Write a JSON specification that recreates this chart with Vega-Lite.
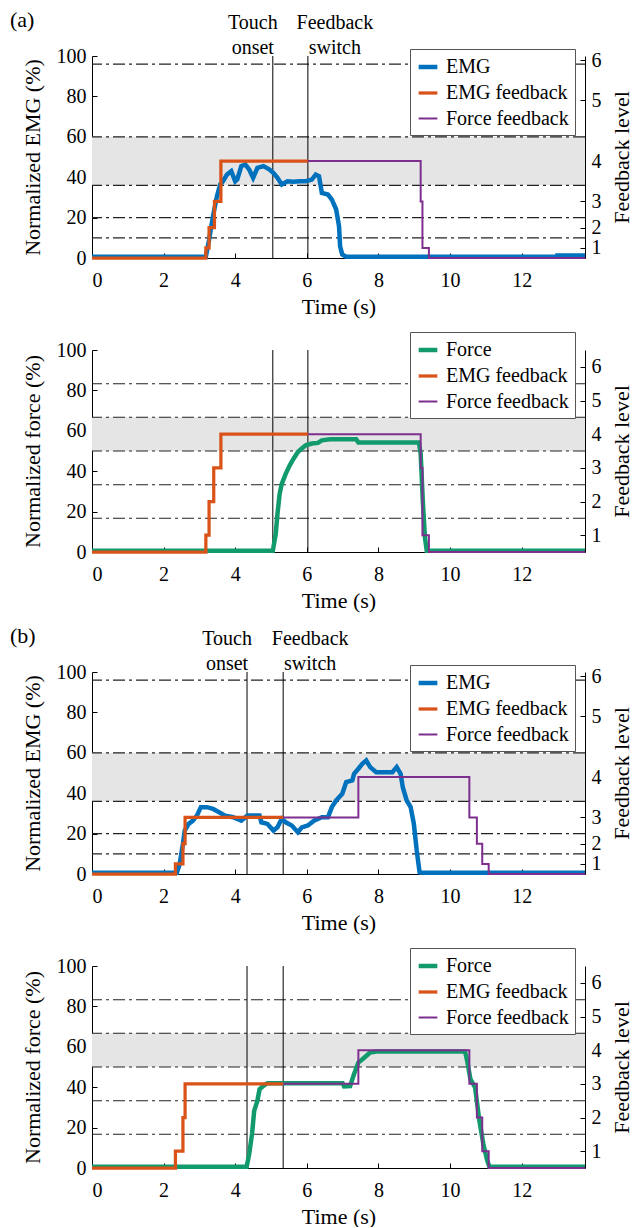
{
  "$schema": "https://vega.github.io/schema/vega-lite/v6.json",
  "padding": {"left": 10, "top": 9, "right": 0, "bottom": 0},
  "spacing": 14,
  "config": {
    "font": "Liberation Serif",
    "view": {"stroke": null},
    "axis": {"labelFont": "Liberation Serif", "titleFont": "Liberation Serif", "labelFontSize": 20, "titleFontSize": 22, "titleFontWeight": "normal", "labelColor": "#000", "titleColor": "#000", "domainColor": "#000", "tickColor": "#000", "grid": false, "tickSize": -5, "labelPadding": 11, "domainWidth": 1, "tickWidth": 1},
    "axisX": {"labelPadding": 17, "titlePadding": 6},
    "legend": {"orient": "none", "labelFont": "Liberation Serif", "labelFontSize": 20, "labelColor": "#000", "strokeColor": "#555", "fillColor": "#fff", "padding": 6, "symbolType": "stroke", "symbolSize": 350, "rowPadding": 5, "labelOffset": 6},
    "title": {"font": "Liberation Serif", "fontSize": 22, "fontWeight": "normal", "anchor": "start", "frame": "bounds", "color": "#000"},
    "text": {"font": "Liberation Serif", "fontSize": 20}
  },
  "resolve": {"scale": {"color": "independent", "strokeWidth": "independent"}},
  "vconcat": [
    {
      "spacing": 14,
      "resolve": {"scale": {"color": "independent", "strokeWidth": "independent"}},
      "vconcat": [
        {
          "width": 493, "height": 202,
          "title": {"text": "(a)", "dx": -11, "dy": 23},
          "layer": [
            {
              "layer": [
                {"data": {"values": [{"lo": 36, "hi": 60}]}, "mark": {"type": "rect", "color": "#e5e5e5"},
                 "encoding": {"y": {"field": "lo", "type": "quantitative", "scale": {"domain": [0, 100], "nice": false}, "axis": {"title": "Normalized EMG (%)", "values": [0, 20, 40, 60, 80, 100], "titlePadding": 12}}, "y2": {"field": "hi"}}},
                {"data": {"values": [{"v": 10}, {"v": 20}, {"v": 36}, {"v": 60}, {"v": 96}]}, "mark": {"type": "rule", "color": "#222", "strokeWidth": 1.2, "strokeDash": [12, 4, 3, 4]},
                 "encoding": {"y": {"field": "v", "type": "quantitative"}}},
                {"data": {"values": [{"t": 5.05, "label": "Touch\nonset", "kind": "touch"}, {"t": 6.03, "label": "Feedback\nswitch", "kind": "switch"}]},
                 "layer": [
                   {"mark": {"type": "rule", "color": "#000", "strokeWidth": 1}, "encoding": {"x": {"field": "t", "type": "quantitative", "scale": {"domain": [0, 13.77], "nice": false}, "axis": {"title": "Time (s)", "values": [0, 2, 4, 6, 8, 10, 12]}}}},
                   {"transform": [{"filter": "datum.kind == 'touch'"}], "mark": {"type": "text", "lineBreak": "\n", "baseline": "bottom", "dy": -23, "dx": -20, "lineHeight": 25}, "encoding": {"x": {"field": "t", "type": "quantitative"}, "y": {"datum": 100}, "text": {"field": "label"}}},
                   {"transform": [{"filter": "datum.kind == 'switch'"}], "mark": {"type": "text", "lineBreak": "\n", "baseline": "bottom", "dy": -23, "dx": 27, "lineHeight": 25}, "encoding": {"x": {"field": "t", "type": "quantitative"}, "y": {"datum": 100}, "text": {"field": "label"}}}
                 ]},
                {"data": {"values": [
                  {"t": 0, "v": 0.6, "s": "EMG"}, {"t": 3.18, "v": 0.6, "s": "EMG"}, {"t": 3.27, "v": 9, "s": "EMG"}, {"t": 3.38, "v": 20.7, "s": "EMG"}, {"t": 3.49, "v": 30.6, "s": "EMG"}, {"t": 3.58, "v": 36.4, "s": "EMG"}, {"t": 3.66, "v": 38, "s": "EMG"}, {"t": 3.77, "v": 41.3, "s": "EMG"}, {"t": 3.89, "v": 43, "s": "EMG"}, {"t": 4.0, "v": 38, "s": "EMG"}, {"t": 4.06, "v": 39, "s": "EMG"}, {"t": 4.17, "v": 45.5, "s": "EMG"}, {"t": 4.28, "v": 46.3, "s": "EMG"}, {"t": 4.39, "v": 43.8, "s": "EMG"}, {"t": 4.5, "v": 39.7, "s": "EMG"}, {"t": 4.62, "v": 44.6, "s": "EMG"}, {"t": 4.79, "v": 45.5, "s": "EMG"}, {"t": 4.96, "v": 43.8, "s": "EMG"}, {"t": 5.07, "v": 42.1, "s": "EMG"}, {"t": 5.18, "v": 39.7, "s": "EMG"}, {"t": 5.3, "v": 36.4, "s": "EMG"}, {"t": 5.46, "v": 38, "s": "EMG"}, {"t": 5.63, "v": 37.8, "s": "EMG"}, {"t": 5.8, "v": 38, "s": "EMG"}, {"t": 5.97, "v": 38, "s": "EMG"}, {"t": 6.14, "v": 38.8, "s": "EMG"}, {"t": 6.25, "v": 41.3, "s": "EMG"}, {"t": 6.34, "v": 40.5, "s": "EMG"}, {"t": 6.42, "v": 32.2, "s": "EMG"}, {"t": 6.59, "v": 31.4, "s": "EMG"}, {"t": 6.7, "v": 28.9, "s": "EMG"}, {"t": 6.82, "v": 24, "s": "EMG"}, {"t": 6.9, "v": 15.7, "s": "EMG"}, {"t": 6.93, "v": 5.8, "s": "EMG"}, {"t": 6.99, "v": 1.7, "s": "EMG"}, {"t": 7.1, "v": 0.6, "s": "EMG"}, {"t": 13.0, "v": 0.6, "s": "EMG"}, {"t": 13.0, "v": 1.2, "s": "EMG"}, {"t": 13.77, "v": 1.2, "s": "EMG"}
                ]}, "mark": {"type": "line"},
                 "encoding": {"x": {"field": "t", "type": "quantitative"}, "y": {"field": "v", "type": "quantitative"},
                   "color": {"field": "s", "type": "nominal", "scale": {"domain": ["EMG", "EMG feedback", "Force feedback"], "range": ["#0072BD", "#D95319", "#7E2F8E"]}, "legend": {"title": null, "legendX": 318, "legendY": -7}},
                   "strokeWidth": {"field": "s", "type": "nominal", "scale": {"domain": ["EMG", "EMG feedback", "Force feedback"], "range": [4.5, 2, 2]}, "legend": {"title": null, "legendX": 318, "legendY": -7}}}}
              ]
            },
            {
              "data": {"values": [
                {"t": 0, "v": 0, "s": "EMG feedback"}, {"t": 3.18, "v": 5, "s": "EMG feedback"}, {"t": 3.27, "v": 15, "s": "EMG feedback"}, {"t": 3.42, "v": 28, "s": "EMG feedback"}, {"t": 3.6, "v": 48, "s": "EMG feedback"}, {"t": 6.03, "v": 48, "s": "EMG feedback"},
                {"t": 6.03, "v": 48, "s": "Force feedback"}, {"t": 9.18, "v": 28, "s": "Force feedback"}, {"t": 9.23, "v": 5, "s": "Force feedback"}, {"t": 9.41, "v": 0, "s": "Force feedback"}, {"t": 13.77, "v": 0, "s": "Force feedback"}
              ]},
              "mark": {"type": "line", "interpolate": "step-after"},
              "encoding": {"x": {"field": "t", "type": "quantitative"},
                "y": {"field": "v", "type": "quantitative", "scale": {"domain": [0, 100], "nice": false}, "axis": {"orient": "right", "title": "Feedback level", "titleAngle": -90, "titleBaseline": "top", "values": [5, 15, 28, 48, 78, 98], "labelExpr": "indexof([5, 15, 28, 48, 78, 98], datum.value) + 1", "titlePadding": 10}},
                "color": {"field": "s", "type": "nominal", "legend": {"title": null, "legendX": 318, "legendY": -7}},
                "strokeWidth": {"field": "s", "type": "nominal", "legend": {"title": null, "legendX": 318, "legendY": -7}}}
            }
          ],
          "resolve": {"scale": {"y": "independent"}}
        },
        {
          "width": 493, "height": 202,
          "layer": [
            {
              "layer": [
                {"data": {"values": [{"lo": 50, "hi": 66.7}]}, "mark": {"type": "rect", "color": "#e5e5e5"},
                 "encoding": {"y": {"field": "lo", "type": "quantitative", "scale": {"domain": [0, 100], "nice": false}, "axis": {"title": "Normalized force (%)", "values": [0, 20, 40, 60, 80, 100], "titlePadding": 12}}, "y2": {"field": "hi"}}},
                {"data": {"values": [{"v": 16.7}, {"v": 33.3}, {"v": 50}, {"v": 66.7}, {"v": 83.3}]}, "mark": {"type": "rule", "color": "#222", "strokeWidth": 1.2, "strokeDash": [12, 4, 3, 4]},
                 "encoding": {"y": {"field": "v", "type": "quantitative"}}},
                {"data": {"values": [{"t": 5.05}, {"t": 6.03}]},
                 "mark": {"type": "rule", "color": "#000", "strokeWidth": 1}, "encoding": {"x": {"field": "t", "type": "quantitative", "scale": {"domain": [0, 13.77], "nice": false}, "axis": {"title": "Time (s)", "values": [0, 2, 4, 6, 8, 10, 12]}}}},
                {"data": {"values": [
                  {"t": 0, "v": 0.6, "s": "Force"}, {"t": 5.05, "v": 0.6, "s": "Force"}, {"t": 5.13, "v": 8.7, "s": "Force"}, {"t": 5.18, "v": 18.7, "s": "Force"}, {"t": 5.24, "v": 28.7, "s": "Force"}, {"t": 5.3, "v": 33.7, "s": "Force"}, {"t": 5.41, "v": 38.7, "s": "Force"}, {"t": 5.52, "v": 42.8, "s": "Force"}, {"t": 5.63, "v": 46.2, "s": "Force"}, {"t": 5.75, "v": 49.5, "s": "Force"}, {"t": 5.86, "v": 51.2, "s": "Force"}, {"t": 5.97, "v": 52.8, "s": "Force"}, {"t": 6.14, "v": 53.7, "s": "Force"}, {"t": 6.31, "v": 54, "s": "Force"}, {"t": 6.42, "v": 55.3, "s": "Force"}, {"t": 6.65, "v": 55.8, "s": "Force"}, {"t": 7.38, "v": 55.8, "s": "Force"}, {"t": 7.44, "v": 54.2, "s": "Force"}, {"t": 9.13, "v": 54.2, "s": "Force"}, {"t": 9.18, "v": 48.7, "s": "Force"}, {"t": 9.24, "v": 25.3, "s": "Force"}, {"t": 9.3, "v": 7, "s": "Force"}, {"t": 9.35, "v": 0.6, "s": "Force"}, {"t": 13.77, "v": 0.6, "s": "Force"}
                ]}, "mark": {"type": "line"},
                 "encoding": {"x": {"field": "t", "type": "quantitative"}, "y": {"field": "v", "type": "quantitative"},
                   "color": {"field": "s", "type": "nominal", "scale": {"domain": ["Force", "EMG feedback", "Force feedback"], "range": ["#119A6E", "#D95319", "#7E2F8E"]}, "legend": {"title": null, "legendX": 318, "legendY": -18}},
                   "strokeWidth": {"field": "s", "type": "nominal", "scale": {"domain": ["Force", "EMG feedback", "Force feedback"], "range": [4.5, 2, 2]}, "legend": {"title": null, "legendX": 318, "legendY": -18}}}}
              ]
            },
            {
              "data": {"values": [
                {"t": 0, "v": 0, "s": "EMG feedback"}, {"t": 3.18, "v": 8.33, "s": "EMG feedback"}, {"t": 3.27, "v": 25, "s": "EMG feedback"}, {"t": 3.4, "v": 41.67, "s": "EMG feedback"}, {"t": 3.6, "v": 58.33, "s": "EMG feedback"}, {"t": 6.03, "v": 58.33, "s": "EMG feedback"},
                {"t": 6.03, "v": 58.33, "s": "Force feedback"}, {"t": 9.18, "v": 41.67, "s": "Force feedback"}, {"t": 9.23, "v": 8.33, "s": "Force feedback"}, {"t": 9.41, "v": 0, "s": "Force feedback"}, {"t": 13.77, "v": 0, "s": "Force feedback"}
              ]},
              "mark": {"type": "line", "interpolate": "step-after"},
              "encoding": {"x": {"field": "t", "type": "quantitative"},
                "y": {"field": "v", "type": "quantitative", "scale": {"domain": [0, 100], "nice": false}, "axis": {"orient": "right", "title": "Feedback level", "titleAngle": -90, "titleBaseline": "top", "values": [8.33, 25, 41.67, 58.33, 75, 91.67], "labelExpr": "indexof([8.33, 25, 41.67, 58.33, 75, 91.67], datum.value) + 1", "titlePadding": 10}},
                "color": {"field": "s", "type": "nominal", "legend": {"title": null, "legendX": 318, "legendY": -18}},
                "strokeWidth": {"field": "s", "type": "nominal", "legend": {"title": null, "legendX": 318, "legendY": -18}}}
            }
          ],
          "resolve": {"scale": {"y": "independent"}}
        }
      ]
    },
    {
      "spacing": 14,
      "resolve": {"scale": {"color": "independent", "strokeWidth": "independent"}},
      "vconcat": [
        {
          "width": 493, "height": 202,
          "title": {"text": "(b)", "dx": -11, "dy": 23},
          "layer": [
            {
              "layer": [
                {"data": {"values": [{"lo": 36, "hi": 60}]}, "mark": {"type": "rect", "color": "#e5e5e5"},
                 "encoding": {"y": {"field": "lo", "type": "quantitative", "scale": {"domain": [0, 100], "nice": false}, "axis": {"title": "Normalized EMG (%)", "values": [0, 20, 40, 60, 80, 100], "titlePadding": 12}}, "y2": {"field": "hi"}}},
                {"data": {"values": [{"v": 10}, {"v": 20}, {"v": 36}, {"v": 60}, {"v": 96}]}, "mark": {"type": "rule", "color": "#222", "strokeWidth": 1.2, "strokeDash": [12, 4, 3, 4]},
                 "encoding": {"y": {"field": "v", "type": "quantitative"}}},
                {"data": {"values": [{"t": 4.33, "label": "Touch\nonset", "kind": "touch"}, {"t": 5.34, "label": "Feedback\nswitch", "kind": "switch"}]},
                 "layer": [
                   {"mark": {"type": "rule", "color": "#000", "strokeWidth": 1}, "encoding": {"x": {"field": "t", "type": "quantitative", "scale": {"domain": [0, 13.77], "nice": false}, "axis": {"title": "Time (s)", "values": [0, 2, 4, 6, 8, 10, 12]}}}},
                   {"transform": [{"filter": "datum.kind == 'touch'"}], "mark": {"type": "text", "lineBreak": "\n", "baseline": "bottom", "dy": -23, "dx": -20, "lineHeight": 25}, "encoding": {"x": {"field": "t", "type": "quantitative"}, "y": {"datum": 100}, "text": {"field": "label"}}},
                   {"transform": [{"filter": "datum.kind == 'switch'"}], "mark": {"type": "text", "lineBreak": "\n", "baseline": "bottom", "dy": -23, "dx": 27, "lineHeight": 25}, "encoding": {"x": {"field": "t", "type": "quantitative"}, "y": {"datum": 100}, "text": {"field": "label"}}}
                 ]},
                {"data": {"values": [
                  {"t": 0, "v": 0.6, "s": "EMG"}, {"t": 2.37, "v": 0.6, "s": "EMG"}, {"t": 2.45, "v": 5, "s": "EMG"}, {"t": 2.54, "v": 14.9, "s": "EMG"}, {"t": 2.59, "v": 21.5, "s": "EMG"}, {"t": 2.7, "v": 24.8, "s": "EMG"}, {"t": 2.82, "v": 26.4, "s": "EMG"}, {"t": 2.93, "v": 28.9, "s": "EMG"}, {"t": 3.04, "v": 33.1, "s": "EMG"}, {"t": 3.21, "v": 33.1, "s": "EMG"}, {"t": 3.38, "v": 32.2, "s": "EMG"}, {"t": 3.55, "v": 30.6, "s": "EMG"}, {"t": 3.72, "v": 28.9, "s": "EMG"}, {"t": 3.94, "v": 28.1, "s": "EMG"}, {"t": 4.17, "v": 26.4, "s": "EMG"}, {"t": 4.34, "v": 28.9, "s": "EMG"}, {"t": 4.5, "v": 28.9, "s": "EMG"}, {"t": 4.68, "v": 28.9, "s": "EMG"}, {"t": 4.73, "v": 25.6, "s": "EMG"}, {"t": 4.9, "v": 24.8, "s": "EMG"}, {"t": 5.07, "v": 21.5, "s": "EMG"}, {"t": 5.18, "v": 23.1, "s": "EMG"}, {"t": 5.3, "v": 27.3, "s": "EMG"}, {"t": 5.41, "v": 25.6, "s": "EMG"}, {"t": 5.58, "v": 24, "s": "EMG"}, {"t": 5.75, "v": 20.7, "s": "EMG"}, {"t": 5.86, "v": 23.1, "s": "EMG"}, {"t": 6.03, "v": 24, "s": "EMG"}, {"t": 6.2, "v": 26.4, "s": "EMG"}, {"t": 6.42, "v": 28.1, "s": "EMG"}, {"t": 6.59, "v": 28.1, "s": "EMG"}, {"t": 6.7, "v": 33.1, "s": "EMG"}, {"t": 6.82, "v": 36.4, "s": "EMG"}, {"t": 6.99, "v": 39.7, "s": "EMG"}, {"t": 7.1, "v": 45.5, "s": "EMG"}, {"t": 7.27, "v": 46.3, "s": "EMG"}, {"t": 7.32, "v": 49.6, "s": "EMG"}, {"t": 7.44, "v": 52.1, "s": "EMG"}, {"t": 7.55, "v": 54.5, "s": "EMG"}, {"t": 7.66, "v": 56.2, "s": "EMG"}, {"t": 7.77, "v": 52.9, "s": "EMG"}, {"t": 7.94, "v": 50.4, "s": "EMG"}, {"t": 8.39, "v": 50.4, "s": "EMG"}, {"t": 8.51, "v": 52.9, "s": "EMG"}, {"t": 8.62, "v": 49.6, "s": "EMG"}, {"t": 8.68, "v": 43, "s": "EMG"}, {"t": 8.79, "v": 36.4, "s": "EMG"}, {"t": 8.9, "v": 33.1, "s": "EMG"}, {"t": 8.99, "v": 24.8, "s": "EMG"}, {"t": 9.07, "v": 11.6, "s": "EMG"}, {"t": 9.15, "v": 0.8, "s": "EMG"}, {"t": 9.2, "v": 0.6, "s": "EMG"}, {"t": 13.77, "v": 0.6, "s": "EMG"}
                ]}, "mark": {"type": "line"},
                 "encoding": {"x": {"field": "t", "type": "quantitative"}, "y": {"field": "v", "type": "quantitative"},
                   "color": {"field": "s", "type": "nominal", "scale": {"domain": ["EMG", "EMG feedback", "Force feedback"], "range": ["#0072BD", "#D95319", "#7E2F8E"]}, "legend": {"title": null, "legendX": 318, "legendY": -7}},
                   "strokeWidth": {"field": "s", "type": "nominal", "scale": {"domain": ["EMG", "EMG feedback", "Force feedback"], "range": [4.5, 2, 2]}, "legend": {"title": null, "legendX": 318, "legendY": -7}}}}
              ]
            },
            {
              "data": {"values": [
                {"t": 0, "v": 0, "s": "EMG feedback"}, {"t": 2.33, "v": 5, "s": "EMG feedback"}, {"t": 2.54, "v": 15, "s": "EMG feedback"}, {"t": 2.6, "v": 28, "s": "EMG feedback"}, {"t": 5.34, "v": 28, "s": "EMG feedback"},
                {"t": 5.34, "v": 28, "s": "Force feedback"}, {"t": 7.44, "v": 48, "s": "Force feedback"}, {"t": 10.54, "v": 28, "s": "Force feedback"}, {"t": 10.75, "v": 15, "s": "Force feedback"}, {"t": 10.9, "v": 5, "s": "Force feedback"}, {"t": 11.08, "v": 0, "s": "Force feedback"}, {"t": 13.77, "v": 0, "s": "Force feedback"}
              ]},
              "mark": {"type": "line", "interpolate": "step-after"},
              "encoding": {"x": {"field": "t", "type": "quantitative"},
                "y": {"field": "v", "type": "quantitative", "scale": {"domain": [0, 100], "nice": false}, "axis": {"orient": "right", "title": "Feedback level", "titleAngle": -90, "titleBaseline": "top", "values": [5, 15, 28, 48, 78, 98], "labelExpr": "indexof([5, 15, 28, 48, 78, 98], datum.value) + 1", "titlePadding": 10}},
                "color": {"field": "s", "type": "nominal", "legend": {"title": null, "legendX": 318, "legendY": -7}},
                "strokeWidth": {"field": "s", "type": "nominal", "legend": {"title": null, "legendX": 318, "legendY": -7}}}
            }
          ],
          "resolve": {"scale": {"y": "independent"}}
        },
        {
          "width": 493, "height": 202,
          "layer": [
            {
              "layer": [
                {"data": {"values": [{"lo": 50, "hi": 66.7}]}, "mark": {"type": "rect", "color": "#e5e5e5"},
                 "encoding": {"y": {"field": "lo", "type": "quantitative", "scale": {"domain": [0, 100], "nice": false}, "axis": {"title": "Normalized force (%)", "values": [0, 20, 40, 60, 80, 100], "titlePadding": 12}}, "y2": {"field": "hi"}}},
                {"data": {"values": [{"v": 16.7}, {"v": 33.3}, {"v": 50}, {"v": 66.7}, {"v": 83.3}]}, "mark": {"type": "rule", "color": "#222", "strokeWidth": 1.2, "strokeDash": [12, 4, 3, 4]},
                 "encoding": {"y": {"field": "v", "type": "quantitative"}}},
                {"data": {"values": [{"t": 4.33}, {"t": 5.34}]},
                 "mark": {"type": "rule", "color": "#000", "strokeWidth": 1}, "encoding": {"x": {"field": "t", "type": "quantitative", "scale": {"domain": [0, 13.77], "nice": false}, "axis": {"title": "Time (s)", "values": [0, 2, 4, 6, 8, 10, 12]}}}},
                {"data": {"values": [
                  {"t": 0, "v": 0.6, "s": "Force"}, {"t": 4.32, "v": 0.6, "s": "Force"}, {"t": 4.39, "v": 6.9, "s": "Force"}, {"t": 4.47, "v": 16.8, "s": "Force"}, {"t": 4.53, "v": 28.3, "s": "Force"}, {"t": 4.62, "v": 33.3, "s": "Force"}, {"t": 4.68, "v": 39, "s": "Force"}, {"t": 4.79, "v": 40.7, "s": "Force"}, {"t": 4.9, "v": 42, "s": "Force"}, {"t": 7.0, "v": 42, "s": "Force"}, {"t": 7.04, "v": 40.4, "s": "Force"}, {"t": 7.21, "v": 40.6, "s": "Force"}, {"t": 7.32, "v": 46.5, "s": "Force"}, {"t": 7.44, "v": 52.2, "s": "Force"}, {"t": 7.61, "v": 54.7, "s": "Force"}, {"t": 7.77, "v": 57.2, "s": "Force"}, {"t": 7.94, "v": 57.7, "s": "Force"}, {"t": 10.42, "v": 57.7, "s": "Force"}, {"t": 10.48, "v": 53, "s": "Force"}, {"t": 10.57, "v": 44, "s": "Force"}, {"t": 10.7, "v": 39.9, "s": "Force"}, {"t": 10.82, "v": 23.4, "s": "Force"}, {"t": 10.93, "v": 11.9, "s": "Force"}, {"t": 11.04, "v": 3.6, "s": "Force"}, {"t": 11.1, "v": 0.6, "s": "Force"}, {"t": 13.77, "v": 0.6, "s": "Force"}
                ]}, "mark": {"type": "line"},
                 "encoding": {"x": {"field": "t", "type": "quantitative"}, "y": {"field": "v", "type": "quantitative"},
                   "color": {"field": "s", "type": "nominal", "scale": {"domain": ["Force", "EMG feedback", "Force feedback"], "range": ["#119A6E", "#D95319", "#7E2F8E"]}, "legend": {"title": null, "legendX": 318, "legendY": -18}},
                   "strokeWidth": {"field": "s", "type": "nominal", "scale": {"domain": ["Force", "EMG feedback", "Force feedback"], "range": [4.5, 2, 2]}, "legend": {"title": null, "legendX": 318, "legendY": -18}}}}
              ]
            },
            {
              "data": {"values": [
                {"t": 0, "v": 0, "s": "EMG feedback"}, {"t": 2.33, "v": 8.33, "s": "EMG feedback"}, {"t": 2.54, "v": 25, "s": "EMG feedback"}, {"t": 2.6, "v": 41.67, "s": "EMG feedback"}, {"t": 5.34, "v": 41.67, "s": "EMG feedback"},
                {"t": 5.34, "v": 41.67, "s": "Force feedback"}, {"t": 7.44, "v": 58.33, "s": "Force feedback"}, {"t": 10.54, "v": 41.67, "s": "Force feedback"}, {"t": 10.75, "v": 25, "s": "Force feedback"}, {"t": 10.9, "v": 8.33, "s": "Force feedback"}, {"t": 11.08, "v": 0, "s": "Force feedback"}, {"t": 13.77, "v": 0, "s": "Force feedback"}
              ]},
              "mark": {"type": "line", "interpolate": "step-after"},
              "encoding": {"x": {"field": "t", "type": "quantitative"},
                "y": {"field": "v", "type": "quantitative", "scale": {"domain": [0, 100], "nice": false}, "axis": {"orient": "right", "title": "Feedback level", "titleAngle": -90, "titleBaseline": "top", "values": [8.33, 25, 41.67, 58.33, 75, 91.67], "labelExpr": "indexof([8.33, 25, 41.67, 58.33, 75, 91.67], datum.value) + 1", "titlePadding": 10}},
                "color": {"field": "s", "type": "nominal", "legend": {"title": null, "legendX": 318, "legendY": -18}},
                "strokeWidth": {"field": "s", "type": "nominal", "legend": {"title": null, "legendX": 318, "legendY": -18}}}
            }
          ],
          "resolve": {"scale": {"y": "independent"}}
        }
      ]
    }
  ]
}
